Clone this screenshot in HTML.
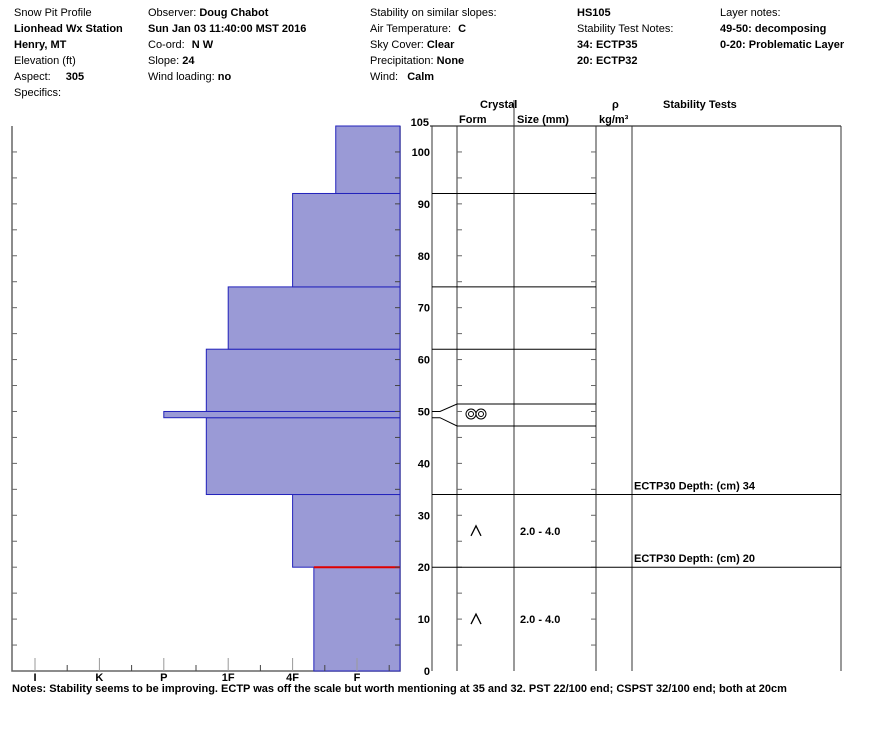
<!DOCTYPE html>
<html><head><meta charset="utf-8"><style>
body{margin:0;background:#fff;}
svg{display:block;font-family:"Liberation Sans",sans-serif;}
.h{font-size:11px;fill:#000}
.b{font-weight:bold}
</style></head><body>
<svg width="888" height="750" viewBox="0 0 888 750">
<g class="h">
<text x="14" y="16">Snow Pit Profile</text>
<text x="14" y="32" class="b">Lionhead Wx Station</text>
<text x="14" y="48" class="b">Henry, MT</text>
<text x="14" y="64">Elevation (ft)</text>
<text x="14" y="80">Aspect: <tspan dx="12" class="b">305</tspan></text>
<text x="14" y="96">Specifics:</text>
<text x="148" y="16">Observer: <tspan class="b">Doug Chabot</tspan></text>
<text x="148" y="32" class="b">Sun Jan 03 11:40:00 MST 2016</text>
<text x="148" y="48">Co-ord: <tspan class="b" dx="4">N  W</tspan></text>
<text x="148" y="64">Slope: <tspan class="b">24</tspan></text>
<text x="148" y="80">Wind loading: <tspan class="b">no</tspan></text>
<text x="370" y="16">Stability on similar slopes:</text>
<text x="370" y="32">Air Temperature: <tspan class="b" dx="4">C</tspan></text>
<text x="370" y="48">Sky Cover: <tspan class="b">Clear</tspan></text>
<text x="370" y="64">Precipitation: <tspan class="b">None</tspan></text>
<text x="370" y="80">Wind: <tspan class="b" dx="6">Calm</tspan></text>
<text x="577" y="16" class="b">HS105</text>
<text x="577" y="32">Stability Test Notes:</text>
<text x="577" y="48" class="b">34: ECTP35</text>
<text x="577" y="64" class="b">20: ECTP32</text>
<text x="720" y="16">Layer notes:</text>
<text x="720" y="32" class="b">49-50: decomposing</text>
<text x="720" y="48" class="b">0-20: Problematic Layer</text>
</g>
<g id="chart"></g>
<g id="table"></g>
<text x="12" y="692" class="h b">Notes:  Stability seems to be improving. ECTP was off the scale but worth mentioning at 35 and 32. PST 22/100 end; CSPST 32/100 end; both at 20cm</text>
</svg>
<script>
const hardnessLabels=["I","K","P","1F","4F","F"];
const layerBottoms=[0,20,34,48.8,50,62,74,92];
const layerTops=[20,34,48.8,50,62,74,92,105];
const layerHardness=[4.33,4.0,2.66,2.0,2.66,3.0,4.0,4.67];
const depthTicks=[0,10,20,30,40,50,60,70,80,90,100,105];
const boundaryLines=[92,74,62];
const testDepths=[34,20];
const testLabels=["ECTP30  Depth: (cm) 34","ECTP30  Depth: (cm) 20"];
const crystalDepths=[27,10];
const crystalSizes=["2.0 - 4.0","2.0 - 4.0"];

const NS="http://www.w3.org/2000/svg";
const Y=d=>671-d*(545/105);
const X=h=>35+h*64.4;
function mk(p,tag,a){const e=document.createElementNS(NS,tag);for(const k in a)e.setAttribute(k,a[k]);p.appendChild(e);return e;}
const ch=document.getElementById('chart');
const tb=document.getElementById('table');
// frame
let f=mk(ch,'path',{d:"M12 126V671H400V126",fill:"none",stroke:"#666","stroke-width":1.5});


// bars
layerHardness.forEach((h,i)=>{
  const r=mk(ch,'rect',{x:X(h),y:Y(layerTops[i]),width:400-X(h),height:Y(layerBottoms[i])-Y(layerTops[i]),fill:"#9a9ad6",stroke:"#2222bb","stroke-width":1});
  
  
});
let red=mk(ch,'line',{x1:X(layerHardness[0]),x2:400,y1:Y(20),y2:Y(20),stroke:"#e00000","stroke-width":2});


// left ticks
for(let d=5;d<105;d+=5){mk(ch,'line',{x1:12,x2:17,y1:Y(d),y2:Y(d),stroke:"#666"});mk(ch,'line',{x1:395,x2:400,y1:Y(d),y2:Y(d),stroke:"#444"});}
// x ticks
hardnessLabels.forEach((l,i)=>{
  mk(ch,'line',{x1:X(i),x2:X(i),y1:658,y2:671,stroke:"#999"});
  mk(ch,'line',{x1:X(i+0.5),x2:X(i+0.5),y1:665,y2:671,stroke:"#444"});
  const t=mk(ch,'text',{x:X(i),y:681,"text-anchor":"middle","font-size":11,"font-weight":"bold"});
  t.textContent=l;
  
  
});
// depth labels
depthTicks.forEach(d=>{
  const t=mk(ch,'text',{x:d===105?429:430,y:Y(d)+(d===105?0:4),"text-anchor":"end","font-size":11,"font-weight":"bold"});
  t.textContent=d;
  
  
});
mk(ch,'line',{x1:430,x2:441,y1:Y(105),y2:Y(105),stroke:"#000"});
// table frame
mk(tb,'line',{x1:432,x2:841,y1:126,y2:126,stroke:"#000"});
[432,457,514,596,632,841].forEach(x=>mk(tb,'line',{x1:x,x2:x,y1:x===514?100:126,y2:671,stroke:"#333"}));
for(let d=5;d<105;d+=5){mk(tb,'line',{x1:457,x2:462,y1:Y(d),y2:Y(d),stroke:"#666"});mk(tb,'line',{x1:591,x2:596,y1:Y(d),y2:Y(d),stroke:"#666"});}
const hd=[["Crystal",480,108],["Form",459,123],["Size (mm)",517,123],["ρ",612,108],["kg/m³",599,123],["Stability Tests",663,108]];
hd.forEach(h=>{const t=mk(tb,'text',{x:h[1],y:h[2],"font-size":11,"font-weight":"bold"});t.textContent=h[0];});
boundaryLines.forEach(d=>mk(tb,'line',{x1:432,x2:596,y1:Y(d),y2:Y(d),stroke:"#000"}));
testDepths.forEach((d,i)=>{
  mk(tb,'line',{x1:432,x2:841,y1:Y(d),y2:Y(d),stroke:"#000"});
  const t=mk(tb,'text',{x:634,y:Y(d)-5,"font-size":11,"font-weight":"bold"});
  t.textContent=testLabels[i];
  
  
});
// thin layer connectors
mk(tb,'path',{d:`M432 ${Y(50)}H440L457 404H596M432 ${Y(48.8)}H440L457 426H596`,fill:"none",stroke:"#000"});
mk(tb,'circle',{cx:471,cy:414,r:5,fill:"none",stroke:"#000"});mk(tb,'circle',{cx:471,cy:414,r:2.5,fill:"none",stroke:"#000"});
mk(tb,'circle',{cx:481,cy:414,r:5,fill:"none",stroke:"#000"});mk(tb,'circle',{cx:481,cy:414,r:2.5,fill:"none",stroke:"#000"});
crystalDepths.forEach((d,i)=>{
  const y=Y(d);
  mk(tb,'path',{d:`M471 ${y+5}L476 ${y-5}L481 ${y+5}`,fill:"none",stroke:"#000","stroke-width":1.3});
  const t=mk(tb,'text',{x:520,y:y+4,"font-size":11,"font-weight":"bold"});
  t.textContent=crystalSizes[i];
  
  
});
</script>
</body></html>
